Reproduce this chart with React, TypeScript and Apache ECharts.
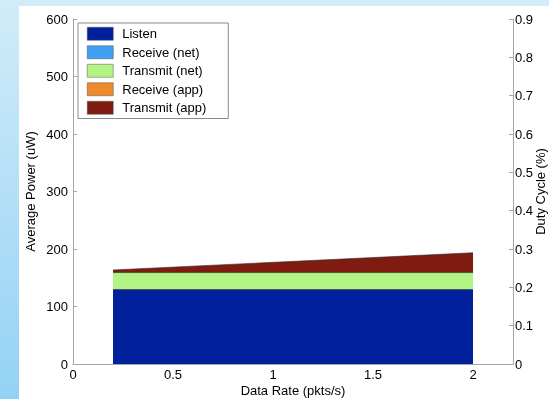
import React, { useEffect, useRef } from "react";
import * as echarts from "echarts";

// Data rate (pkts/s) at the two ends of the sweep
const dataRates = [0.2, 2];
// Average power components (uW)
const listenPower = [129, 129];
const receiveNetPower = [0, 0];
const transmitNetPower = [30, 30];
const receiveAppPower = [0, 0];
const transmitAppPower = [4.5, 34.5];

const seriesNames = ["Listen", "Receive (net)", "Transmit (net)", "Receive (app)", "Transmit (app)"];
const seriesColors = ["#00209c", "#3fa0f4", "#b2f585", "#ee8a2c", "#801b12"];
const seriesValues = [listenPower, receiveNetPower, transmitNetPower, receiveAppPower, transmitAppPower];

const powerTicks = { min: 0, max: 600, interval: 100 };
const dutyTicks = { min: 0, max: 0.9, interval: 0.1 };
const rateTicks = { min: 0, max: 2.2, interval: 0.5 };

const FONT = "Liberation Sans, Arial, Helvetica, sans-serif";
const AXIS_GRAY = "#a6a6a6";

// Running totals so each band sits on top of the ones below it
function cumulative(upTo: number): number[] {
  return dataRates.map((_, j) => {
    let s = 0;
    for (let i = 0; i <= upTo; i++) s += seriesValues[i][j];
    return s;
  });
}

export default function App() {
  const ref = useRef<HTMLDivElement>(null);

  useEffect(() => {
    if (!ref.current) return;
    const chart = echarts.init(ref.current, undefined, { renderer: "svg" });

    // Higher totals are drawn first so lower bands cover them
    const series = seriesNames.map((name, i) => {
      const totals = cumulative(i);
      return {
        name,
        type: "line",
        yAxisIndex: 0,
        color: seriesColors[i],
        showSymbol: false,
        symbol: "none",
        lineStyle: { color: "#2a2a2a", width: 0.6 },
        areaStyle: { color: seriesColors[i], opacity: 1, origin: 0 },
        data: dataRates.map((x, j) => [x, totals[j]]),
        z: 10 - i,
      };
    });

    chart.setOption({
      animation: false,
      textStyle: { fontFamily: FONT },
      graphic: [
        {
          type: "rect",
          left: 0,
          top: 0,
          z: -10,
          silent: true,
          shape: { x: 0, y: 0, width: 549, height: 399 },
          style: {
            fill: new echarts.graphic.LinearGradient(0, 0, 0, 1, [
              { offset: 0, color: "#d2ecf8" },
              { offset: 1, color: "#93d2f5" },
            ]),
          },
        },
        {
          type: "rect",
          left: 19,
          top: 6,
          z: -9,
          silent: true,
          shape: { x: 0, y: 0, width: 530, height: 393 },
          style: { fill: "#ffffff" },
        },
      ],
      legend: {
        orient: "vertical",
        left: 78,
        top: 23,
        icon: "rect",
        itemWidth: 26,
        itemHeight: 13,
        itemGap: 5,
        padding: [4, 22, 4, 9],
        borderColor: "#8a8a8a",
        borderWidth: 1,
        backgroundColor: "#ffffff",
        selectedMode: false,
        itemStyle: { borderColor: "#555", borderWidth: 0.5 },
        textStyle: { fontFamily: FONT, fontSize: 13, color: "#000", padding: [0, 0, 0, 4] },
        data: seriesNames,
      },
      grid: { left: 73, right: 36, top: 19, bottom: 35, outerBoundsMode: "none", containLabel: false },
      xAxis: {
        type: "value",
        ...rateTicks,
        name: "Data Rate (pkts/s)",
        nameLocation: "middle",
        nameGap: 20,
        nameMoveOverlap: false,
        nameTextStyle: { fontFamily: FONT, fontSize: 13, color: "#000" },
        axisLine: { show: true, lineStyle: { color: AXIS_GRAY, width: 1 } },
        axisTick: { show: false },
        splitLine: { show: false },
        axisLabel: {
          fontFamily: FONT,
          fontSize: 13,
          color: "#000",
          margin: 4,
          showMaxLabel: false,
          formatter: (v: number) => String(v),
        },
      },
      yAxis: [
        {
          type: "value",
          position: "left",
          ...powerTicks,
          name: "Average Power (uW)",
          nameLocation: "middle",
          nameRotate: 90,
          nameGap: 36,
          nameMoveOverlap: false,
          nameTextStyle: { fontFamily: FONT, fontSize: 13, color: "#000" },
          axisLine: { show: true, lineStyle: { color: AXIS_GRAY, width: 1 } },
          axisTick: { show: true, inside: true, length: 4, lineStyle: { color: AXIS_GRAY } },
          splitLine: { show: false },
          axisLabel: { fontFamily: FONT, fontSize: 13, color: "#000", margin: 5 },
        },
        {
          type: "value",
          position: "right",
          ...dutyTicks,
          name: "Duty Cycle (%)",
          nameLocation: "middle",
          nameRotate: 90,
          nameGap: 21,
          nameMoveOverlap: false,
          nameTextStyle: { fontFamily: FONT, fontSize: 13, color: "#000" },
          axisLine: { show: true, lineStyle: { color: AXIS_GRAY, width: 1 } },
          axisTick: { show: true, inside: true, length: 4, lineStyle: { color: AXIS_GRAY } },
          splitLine: { show: false },
          axisLabel: {
            fontFamily: FONT,
            fontSize: 13,
            color: "#000",
            margin: 2,
            formatter: (v: number) => (v === 0 ? "0" : v.toFixed(1)),
          },
        },
      ],
      series,
    });

    return () => chart.dispose();
  }, []);

  return (
    <div
      ref={ref}
      style={{ position: "fixed", left: 0, top: 0, width: 549, height: 399 }}
    />
  );
}
